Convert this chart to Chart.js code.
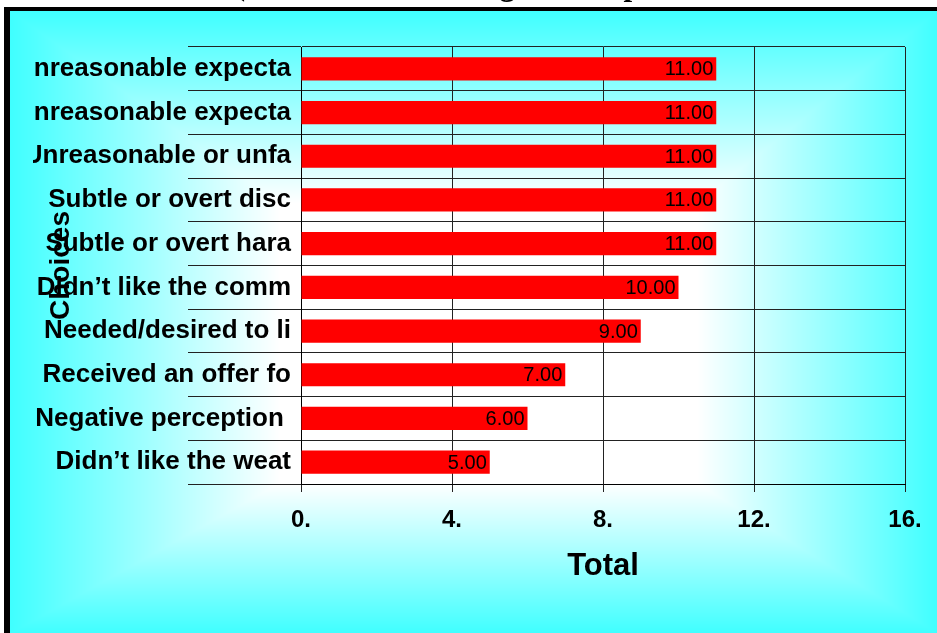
<!DOCTYPE html>
<html lang="en">
<head>
  <meta charset="UTF-8" />
  <title>Choices - Total</title>
  <script src="https://cdn.jsdelivr.net/npm/chart.js"></script>
  <style>
    html, body { margin: 0; padding: 0; background: #fff; overflow: hidden; }
    #wrap { position: relative; width: 937px; height: 633px; }
    #chart { position: absolute; left: 0; top: 0; }
    /* heading is mostly cut off by the frame, only its descenders show */
    #heading {
      position: absolute; left: 43px; top: -32px; width: 894px; height: 39px;
      overflow: hidden; white-space: nowrap; z-index: 2;
      font: bold 31px "Liberation Serif", "Times New Roman", serif;
      line-height: 33px; color: #000;
    }
  </style>
</head>
<body>
  <div id="wrap">
    <canvas id="chart" width="937" height="633"></canvas>
    <div id="heading">Total Reasons (Reasons for Leaving the Hospital Most Often Cited Overall)</div>
  </div>

  <script>
    // data
    const choiceLabels = [
      'Unreasonable expecta',
      'Unreasonable expecta',
      'Unreasonable or unfa',
      'Subtle or overt disc',
      'Subtle or overt hara',
      'Didn\u2019t like the comm',
      'Needed/desired to li',
      'Received an offer fo',
      'Negative perception ',
      'Didn\u2019t like the weat'
    ];
    const totals = [11, 11, 11, 11, 11, 10, 9, 7, 6, 5];
    const totalTicks = ['0.', '4.', '8.', '12.', '16.'];

    const FONT = '"Liberation Sans", Arial, sans-serif';

    // frame + gradient fill behind everything, and clip the long labels at the left
    const backdrop = {
      id: 'backdrop',
      beforeDraw(chart) {
        const { ctx, width, height } = chart;
        const img = ctx.createImageData(width, height);
        const cx = 500, cy = 360;
        for (let y = 0; y < height; y++) {
          const ty = y < cy ? (cy - y) / (cy - 11) : (y - cy) / (height - cy);
          for (let x = 0; x < width; x++) {
            const tx = x < cx ? (cx - x) / (cx - 10) : (x - cx) / (width - cx);
            const t = Math.max(tx, ty);
            const g = Math.min(1, Math.max(0, (t - 0.45) / 0.55));
            const i = (y * width + x) * 4;
            img.data[i] = 255 - 191 * g;
            img.data[i + 1] = 255;
            img.data[i + 2] = 255;
            img.data[i + 3] = 255;
          }
        }
        ctx.putImageData(img, 0, 0);
        ctx.fillStyle = '#fff';
        ctx.fillRect(0, 0, width, 7);
        ctx.fillRect(0, 0, 4, height);
        ctx.fillStyle = '#000';
        ctx.fillRect(4, 7, width - 4, 4);
        ctx.fillRect(4, 7, 6, height - 7);

        ctx.save();
        ctx.beginPath();
        ctx.rect(33, 0, width - 33, height);
        ctx.clip();
      },
      afterDraw(chart) {
        chart.ctx.restore();
      }
    };

    // "11.00" style labels at the end of each bar
    const barValues = {
      id: 'barValues',
      afterDatasetsDraw(chart) {
        const { ctx } = chart;
        const meta = chart.getDatasetMeta(0);
        ctx.save();
        ctx.font = '20px ' + FONT;
        ctx.fillStyle = '#000';
        ctx.textAlign = 'right';
        ctx.textBaseline = 'middle';
        meta.data.forEach((bar, i) => {
          ctx.fillText(totals[i].toFixed(2), bar.x - 3, bar.y + 1);
        });
        ctx.restore();
      }
    };

    new Chart(document.getElementById('chart'), {
      type: 'bar',
      data: {
        labels: choiceLabels,
        datasets: [{
          label: 'Total',
          data: totals,
          backgroundColor: '#ff0000',
          borderWidth: 0,
          barPercentage: 0.53,
          categoryPercentage: 1
        }]
      },
      options: {
        indexAxis: 'y',
        responsive: false,
        animation: false,
        layout: { padding: { left: 33, top: 47, right: 32, bottom: 0 } },
        plugins: {
          legend: { display: false },
          tooltip: { enabled: false }
        },
        scales: {
          x: {
            min: 0,
            max: 16,
            ticks: {
              stepSize: 4,
              callback: (v, i) => totalTicks[i],
              color: '#000',
              font: { family: FONT, size: 24, weight: 'bold' },
              padding: 14,
              maxRotation: 0
            },
            grid: { color: '#222', tickLength: 8 },
            border: { color: '#000' },
            title: {
              display: true,
              text: 'Total',
              color: '#000',
              font: { family: FONT, size: 31, weight: 'bold' },
              padding: { top: 0, bottom: 48 }
            },
            afterFit: s => { s.height = 149; }
          },
          y: {
            ticks: {
              color: '#000',
              font: { family: FONT, size: 26, weight: 'bold' },
              padding: -103,
              autoSkip: false
            },
            grid: { color: '#222', tickLength: 113 },
            border: { color: '#000' },
            title: {
              display: true,
              text: 'Choices',
              color: '#000',
              font: { family: FONT, size: 28, weight: 'bold' },
              padding: { top: 11, bottom: 0 }
            },
            afterFit: s => { s.width = 268; }
          }
        }
      },
      plugins: [backdrop, barValues]
    });
  </script>
</body>
</html>
